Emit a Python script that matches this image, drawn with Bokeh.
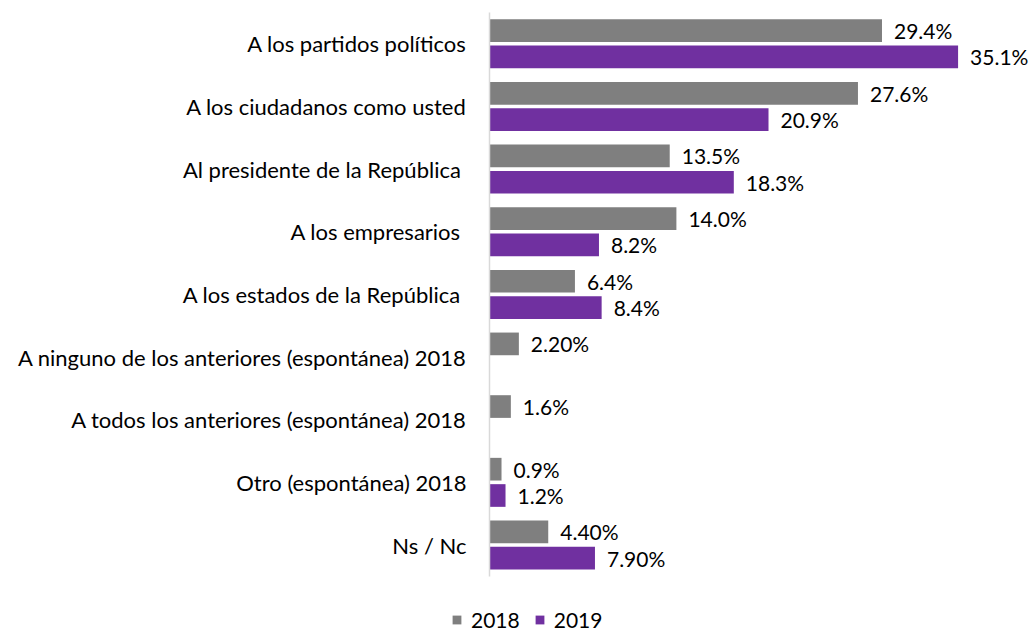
from bokeh.plotting import figure
from bokeh.models import Range1d, ColumnDataSource, Legend, LegendItem, FixedTicker
from bokeh.core.properties import value
from bokeh.embed import file_html
from bokeh.resources import INLINE

categories = [
    "A los partidos políticos",
    "A los ciudadanos como usted",
    "Al presidente de la República ",
    "A los empresarios ",
    "A los estados de la República ",
    "A ninguno de los anteriores (espontánea) 2018",
    "A todos los anteriores (espontánea) 2018",
    "Otro (espontánea) 2018",
    "Ns / Nc",
]
values_2018 = [29.4, 27.6, 13.5, 14.0, 6.4, 2.2, 1.6, 0.9, 4.4]
labels_2018 = ["29.4%", "27.6%", "13.5%", "14.0%", "6.4%", "2.20%", "1.6%", "0.9%", "4.40%"]
values_2019 = [35.1, 20.9, 18.3, 8.2, 8.4, None, None, 1.2, 7.9]
labels_2019 = ["35.1%", "20.9%", "18.3%", "8.2%", "8.4%", "", "", "1.2%", "7.90%"]
series = ["2018", "2019"]
colors = ["#7F7F7F", "#7030A0"]

FONT = "Lato"
CAT_FS = "22px"
LAB_FS = "21px"

W, H = 1034, 635
AXIS_PX = 489
PITCH = 62.65
TOP_CENTER = 43.3
PX_PER_UNIT = 13.35

n = len(categories)
ypos = [-i for i in range(n)]               # 0 = top category
off = 0.21
h = 0.362

src18 = ColumnDataSource(dict(y=[y + off for y in ypos], v=values_2018, lab=labels_2018))
keep = [i for i, v in enumerate(values_2019) if v is not None]
src19 = ColumnDataSource(dict(y=[ypos[i] - off for i in keep],
                              v=[values_2019[i] for i in keep],
                              lab=[labels_2019[i] for i in keep]))

y_end = TOP_CENTER / PITCH
y_start = y_end - H / PITCH
x_start = -AXIS_PX / PX_PER_UNIT
x_end = (W - AXIS_PX) / PX_PER_UNIT

p = figure(width=W, height=H,
           y_range=Range1d(y_start, y_end),
           x_range=Range1d(x_start, x_end),
           output_backend="svg", toolbar_location=None,
           min_border_left=0, min_border_right=0,
           min_border_top=0, min_border_bottom=0)

p.xaxis.visible = False
p.xgrid.visible = False
p.ygrid.visible = False
p.outline_line_color = None

yax = p.yaxis[0]
yax.fixed_location = 0
yax.ticker = FixedTicker(ticks=ypos)
yax.major_label_overrides = {float(y): c for y, c in zip(ypos, categories)}
yax.bounds = (ypos[-1] - 0.5, ypos[0] + 0.5)
yax.axis_line_color = "#d9d9d9"
yax.axis_line_width = 1.5
yax.major_tick_line_color = None
yax.minor_tick_line_color = None
yax.major_label_text_font = FONT
yax.major_label_text_font_size = CAT_FS
yax.major_label_text_color = "#000000"
yax.major_label_standoff = 17

r18 = p.hbar(y="y", left=0, right="v", height=h, source=src18,
             fill_color=colors[0], line_color=None)
r19 = p.hbar(y="y", left=0, right="v", height=h, source=src19,
             fill_color=colors[1], line_color=None)

for src in (src18, src19):
    p.text(x="v", y="y", text="lab", source=src,
           x_offset=12, text_align="left", text_baseline="middle",
           text_font=value(FONT), text_font_size=LAB_FS, text_color="#000000")

legend = Legend(items=[LegendItem(label=series[0], renderers=[r18]),
                       LegendItem(label=series[1], renderers=[r19])],
                orientation="horizontal", location=(451, 3),
                border_line_color=None, background_fill_alpha=0,
                glyph_width=11, glyph_height=11, label_standoff=9,
                spacing=14, padding=0, margin=0,
                label_text_font=FONT, label_text_font_size=LAB_FS,
                label_text_color="#000000")
p.add_layout(legend, "center")

open("out.html", "w").write(file_html(p, INLINE))
